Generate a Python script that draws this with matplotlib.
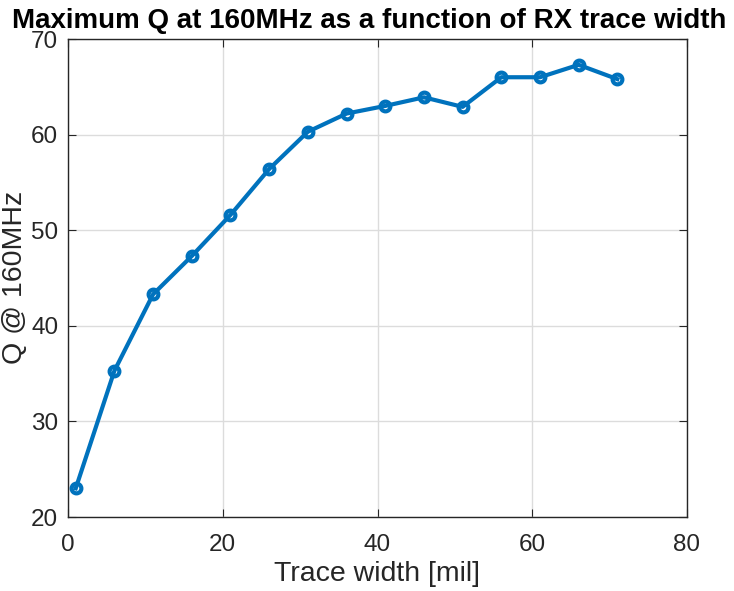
import matplotlib
matplotlib.use("Agg")
import matplotlib.pyplot as plt

trace_width = [1, 6, 11, 16, 21, 26, 31, 36, 41, 46, 51, 56, 61, 66, 71]
q_values = [23.0, 35.3, 43.3, 47.3, 51.6, 56.4, 60.3, 62.2, 63.0, 63.9, 62.9, 66.0, 66.0, 67.3, 65.8]
xticks = [0, 20, 40, 60, 80]
yticks = [20, 30, 40, 50, 60, 70]

plt.rcParams['font.family'] = ['Liberation Sans', 'DejaVu Sans']

W, H = 734, 591
fig = plt.figure(figsize=(W/100, H/100), dpi=100)
ax = fig.add_axes([68/W, 1 - 517/H, (687-68)/W, (517-39)/H])

ax.plot(trace_width, q_values, color='#0072BD', linewidth=3, marker='o',
        markersize=7, markerfacecolor='none', markeredgewidth=3)

ax.set_xlim(0, 80)
ax.set_ylim(20, 70)
ax.set_xticks(xticks)
ax.set_yticks(yticks)
ax.grid(True, color='#dcdcdc', linewidth=1)
ax.set_axisbelow(True)
ax.tick_params(direction='in', length=6, labelsize=17.5, colors='#262626',
               top=True, right=True)
ax.tick_params(axis='x', pad=12)
ax.tick_params(axis='y', pad=7)
for s in ax.spines.values():
    s.set_color('#262626')
    s.set_linewidth(1)

ax.set_xlabel('Trace width [mil]', fontsize=20.5, color='#262626', labelpad=4)
fig.text(15/W, 1 - 277/H, 'Q @ 160MHz', fontsize=20.5, color='#262626',
         rotation=90, ha='center', va='center')
fig.text(369/W, 1 - 28/H, 'Maximum Q at 160MHz as a function of RX trace width',
         fontsize=20, fontweight='bold', ha='center', va='baseline')

fig.savefig('out.png', dpi=100)
